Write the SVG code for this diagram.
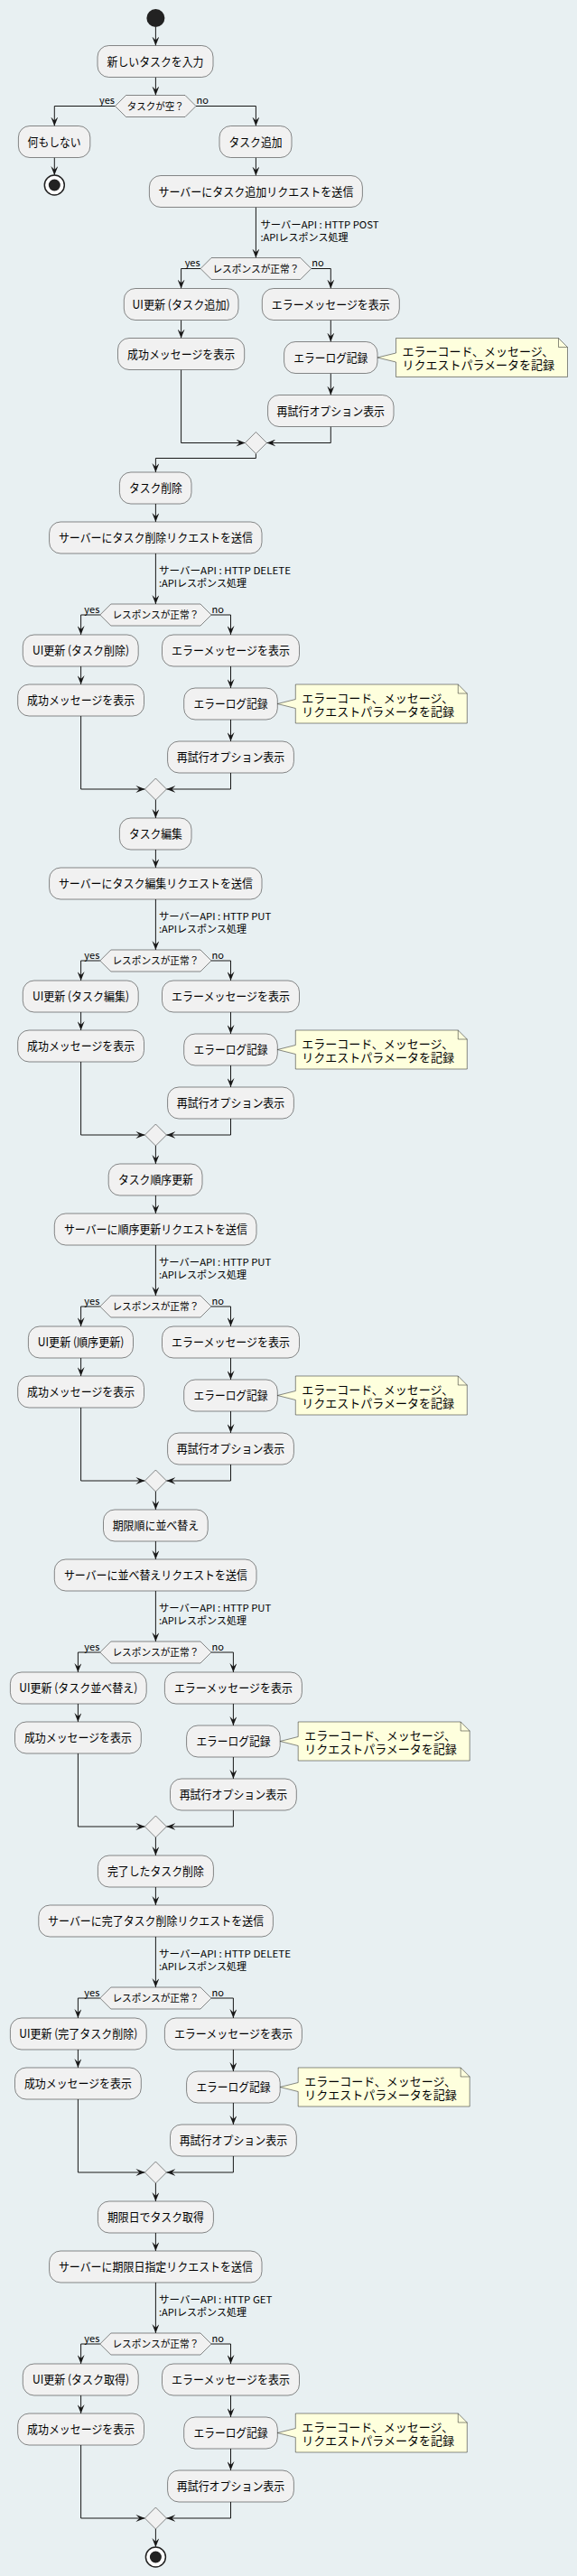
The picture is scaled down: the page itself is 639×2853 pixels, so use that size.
<svg xmlns="http://www.w3.org/2000/svg" width="639" height="2853" viewBox="0 0 639 2853">
<defs>
<style>
.box{fill:#F1F1F1;stroke:#181818;stroke-width:0.5}
.dia{fill:#F1F1F1;stroke:#181818;stroke-width:0.5}
.note{fill:#FEFFDD;stroke:#181818;stroke-width:0.5}
.fold{fill:none;stroke:#181818;stroke-width:0.5}
.c{fill:none;stroke:#181818;stroke-width:1;marker-end:url(#ah)}
.c0{fill:none;stroke:#181818;stroke-width:1}
text{font-family:"Noto Sans CJK JP","Noto Sans",sans-serif;fill:#000}
.t{font-size:13px;text-anchor:middle}
.dt{font-size:11px;text-anchor:middle}
.nt{font-size:13px}
.lb{font-size:11px}
.yes{font-size:11px;text-anchor:end}
.no{font-size:11px}
</style>
<marker id="ah" viewBox="0 0 10 8" refX="10" refY="4" markerWidth="10" markerHeight="8" markerUnits="userSpaceOnUse" orient="auto"><path d="M0,0 L10,4 L0,8 L4,4 Z" fill="#181818"/></marker>
</defs>
<rect x="0" y="0" width="639" height="2853" fill="#E8F0F2"/>

<g id="connectors">
<!-- section 1 -->
<path class="c" d="M172.4,30 V50.5"/>
<path class="c" d="M172.4,85.5 V105.5"/>
<path class="c" d="M127.5,117.5 H60.3 V139.5"/>
<path class="c" d="M217,117.5 H283.4 V139.5"/>
<path class="c" d="M60.3,174.5 V194"/>
<path class="c" d="M283.4,174.5 V194.5"/>
<path class="c" d="M283.4,229.5 V285.5"/>
<path class="c" d="M222.1,297.5 H200.6 V319.5"/>
<path class="c" d="M344.7,297.5 H366.3 V319.5"/>
<path class="c" d="M200.6,354.5 V374.5"/>
<path class="c" d="M366.3,354.5 V378.5"/>
<path class="c" d="M366.3,413.5 V437.5"/>
<path class="c" d="M200.6,409.5 V490.5 H271.4"/>
<path class="c" d="M366.3,472.5 V490.5 H295.4"/>
<path class="c" d="M283.4,502.5 V507.5 H172.4 V523"/>
<text class="yes" x="127" y="115">yes</text>
<text class="no" x="217.5" y="115">no</text>
<text class="lb" x="288.5" y="252.5" textLength="131" lengthAdjust="spacingAndGlyphs">サーバーAPI : HTTP POST</text>
<text class="lb" x="288.5" y="266.5" textLength="97" lengthAdjust="spacingAndGlyphs">:APIレスポンス処理</text>
<text class="yes" x="221.6" y="295">yes</text>
<text class="no" x="345.2" y="295">no</text>
<!-- section 2 -->
<path class="c" d="M172.4,558 V578"/>
<path class="c" d="M172.4,613 V669"/>
<path class="c" d="M110.8,681 H89.6 V703"/>
<path class="c" d="M234,681 H255.5 V703"/>
<path class="c" d="M89.6,738 V758"/>
<path class="c" d="M255.5,738 V762"/>
<path class="c" d="M255.5,797 V821"/>
<path class="c" d="M89.6,793 V874 H160.4"/>
<path class="c" d="M255.5,856 V874 H184.4"/>
<path class="c" d="M172.4,886 V906"/>
<text class="lb" x="176" y="635.5" textLength="146" lengthAdjust="spacingAndGlyphs">サーバーAPI : HTTP DELETE</text>
<text class="lb" x="176" y="650" textLength="97" lengthAdjust="spacingAndGlyphs">:APIレスポンス処理</text>
<text class="yes" x="110.3" y="678.5">yes</text>
<text class="no" x="234.6" y="678.5">no</text>
<!-- section 3 -->
<path class="c" d="M172.4,941 V961"/>
<path class="c" d="M172.4,996 V1052"/>
<path class="c" d="M110.8,1064 H89.6 V1086"/>
<path class="c" d="M234,1064 H255.5 V1086"/>
<path class="c" d="M89.6,1121 V1141"/>
<path class="c" d="M255.5,1121 V1145"/>
<path class="c" d="M255.5,1180 V1204"/>
<path class="c" d="M89.6,1176 V1257 H160.4"/>
<path class="c" d="M255.5,1239 V1257 H184.4"/>
<path class="c" d="M172.4,1269 V1289"/>
<text class="lb" x="176" y="1018.5" textLength="124.3" lengthAdjust="spacingAndGlyphs">サーバーAPI : HTTP PUT</text>
<text class="lb" x="176" y="1033" textLength="97" lengthAdjust="spacingAndGlyphs">:APIレスポンス処理</text>
<text class="yes" x="110.3" y="1061.5">yes</text>
<text class="no" x="234.6" y="1061.5">no</text>
<!-- section 4 -->
<path class="c" d="M172.4,1324 V1344"/>
<path class="c" d="M172.4,1379 V1435"/>
<path class="c" d="M110.8,1447 H89.6 V1469"/>
<path class="c" d="M234,1447 H255.5 V1469"/>
<path class="c" d="M89.6,1504 V1524"/>
<path class="c" d="M255.5,1504 V1528"/>
<path class="c" d="M255.5,1563 V1587"/>
<path class="c" d="M89.6,1559 V1640 H160.4"/>
<path class="c" d="M255.5,1622 V1640 H184.4"/>
<path class="c" d="M172.4,1652 V1672"/>
<text class="lb" x="176" y="1401.5" textLength="124.3" lengthAdjust="spacingAndGlyphs">サーバーAPI : HTTP PUT</text>
<text class="lb" x="176" y="1416" textLength="97" lengthAdjust="spacingAndGlyphs">:APIレスポンス処理</text>
<text class="yes" x="110.3" y="1444.5">yes</text>
<text class="no" x="234.6" y="1444.5">no</text>
<!-- section 5 -->
<path class="c" d="M172.4,1707 V1727"/>
<path class="c" d="M172.4,1762 V1818"/>
<path class="c" d="M110.8,1830 H86.4 V1852"/>
<path class="c" d="M234,1830 H258.4 V1852"/>
<path class="c" d="M86.4,1887 V1907"/>
<path class="c" d="M258.4,1887 V1911"/>
<path class="c" d="M258.4,1946 V1970"/>
<path class="c" d="M86.4,1942 V2023 H160.4"/>
<path class="c" d="M258.4,2005 V2023 H184.4"/>
<path class="c" d="M172.4,2035 V2055"/>
<text class="lb" x="176" y="1784.5" textLength="124.3" lengthAdjust="spacingAndGlyphs">サーバーAPI : HTTP PUT</text>
<text class="lb" x="176" y="1799" textLength="97" lengthAdjust="spacingAndGlyphs">:APIレスポンス処理</text>
<text class="yes" x="110.3" y="1827.5">yes</text>
<text class="no" x="234.6" y="1827.5">no</text>
<!-- section 6 -->
<path class="c" d="M172.4,2090 V2110"/>
<path class="c" d="M172.4,2145 V2201"/>
<path class="c" d="M110.8,2213 H86.4 V2235"/>
<path class="c" d="M234,2213 H258.4 V2235"/>
<path class="c" d="M86.4,2270 V2290"/>
<path class="c" d="M258.4,2270 V2294"/>
<path class="c" d="M258.4,2329 V2353"/>
<path class="c" d="M86.4,2325 V2406 H160.4"/>
<path class="c" d="M258.4,2388 V2406 H184.4"/>
<path class="c" d="M172.4,2418 V2438"/>
<text class="lb" x="176" y="2167.5" textLength="146" lengthAdjust="spacingAndGlyphs">サーバーAPI : HTTP DELETE</text>
<text class="lb" x="176" y="2182" textLength="97" lengthAdjust="spacingAndGlyphs">:APIレスポンス処理</text>
<text class="yes" x="110.3" y="2210.5">yes</text>
<text class="no" x="234.6" y="2210.5">no</text>
<!-- section 7 -->
<path class="c" d="M172.4,2473 V2493"/>
<path class="c" d="M172.4,2528 V2584"/>
<path class="c" d="M110.8,2596 H89.6 V2618"/>
<path class="c" d="M234,2596 H255.5 V2618"/>
<path class="c" d="M89.6,2653 V2673"/>
<path class="c" d="M255.5,2653 V2677"/>
<path class="c" d="M255.5,2712 V2736"/>
<path class="c" d="M89.6,2708 V2789 H160.4"/>
<path class="c" d="M255.5,2771 V2789 H184.4"/>
<path class="c" d="M172.4,2801 V2821"/>
<text class="lb" x="176" y="2550.5" textLength="125.5" lengthAdjust="spacingAndGlyphs">サーバーAPI : HTTP GET</text>
<text class="lb" x="176" y="2565" textLength="97" lengthAdjust="spacingAndGlyphs">:APIレスポンス処理</text>
<text class="yes" x="110.3" y="2593.5">yes</text>
<text class="no" x="234.6" y="2593.5">no</text>
</g>

<!-- section 1 nodes -->
<g id="start"><circle cx="172.4" cy="20" r="10" fill="#222"/></g>
<g id="n_input"><rect class="box" x="108" y="50.5" width="128" height="35" rx="12.5"/><text class="t" x="172" y="72.5" textLength="107" lengthAdjust="spacingAndGlyphs">新しいタスクを入力</text></g>
<g id="d_empty"><polygon class="dia" points="127.5,117.5 139.5,105.5 205,105.5 217,117.5 205,129.5 139.5,129.5"/><text class="dt" x="172.2" y="121.5" textLength="63" lengthAdjust="spacingAndGlyphs">タスクが空？</text></g>
<g id="n_nothing"><rect class="box" x="20.4" y="139.5" width="79.4" height="35" rx="12.5"/><text class="t" x="60.1" y="161.5" textLength="59" lengthAdjust="spacingAndGlyphs">何もしない</text></g>
<g id="end1"><circle cx="60.3" cy="205" r="11" fill="#fff" stroke="#222" stroke-width="1.5"/><circle cx="60.3" cy="205" r="6.5" fill="#222"/></g>
<g id="n_add"><rect class="box" x="243" y="139.5" width="80" height="35" rx="12.5"/><text class="t" x="283" y="161.5" textLength="59" lengthAdjust="spacingAndGlyphs">タスク追加</text></g>
<g id="n_send1"><rect class="box" x="165.4" y="194.5" width="236" height="35" rx="12.5"/><text class="t" x="283.4" y="216.5" textLength="216" lengthAdjust="spacingAndGlyphs">サーバーにタスク追加リクエストを送信</text></g>
<g id="d_resp1"><polygon class="dia" points="222.1,297.5 234.1,285.5 332.7,285.5 344.7,297.5 332.7,309.5 234.1,309.5"/><text class="dt" x="283.4" y="301.5" textLength="96" lengthAdjust="spacingAndGlyphs">レスポンスが正常？</text></g>
<g id="n_ui1"><rect class="box" x="137.3" y="319.5" width="126.7" height="35" rx="12.5"/><text class="t" x="200.6" y="341.5" textLength="108" lengthAdjust="spacingAndGlyphs">UI更新 (タスク追加)</text></g>
<g id="n_err1"><rect class="box" x="290.3" y="319.5" width="152" height="35" rx="12.5"/><text class="t" x="366.3" y="341.5" textLength="131" lengthAdjust="spacingAndGlyphs">エラーメッセージを表示</text></g>
<g id="n_ok1"><rect class="box" x="130.5" y="374.5" width="140.2" height="35" rx="12.5"/><text class="t" x="200.6" y="396.5" textLength="119" lengthAdjust="spacingAndGlyphs">成功メッセージを表示</text></g>
<g id="n_log1"><rect class="box" x="314.6" y="378.5" width="103.4" height="35" rx="12.5"/><text class="t" x="366.3" y="400.5" textLength="82" lengthAdjust="spacingAndGlyphs">エラーログ記録</text></g>
<g id="note1"><path class="note" d="M438.5,374.5 L618.5,374.5 L628.5,384.5 L628.5,417.5 L438.5,417.5 L438.5,401 L418,396 L438.5,391 Z"/><path class="fold" d="M618.5,374.5 L618.5,384.5 L628.5,384.5"/><text class="nt" x="445.5" y="394">エラーコード、メッセージ、</text><text class="nt" x="445.5" y="409">リクエストパラメータを記録</text></g>
<g id="n_retry1"><rect class="box" x="296.6" y="437.5" width="139.4" height="35" rx="12.5"/><text class="t" x="366.3" y="459.5" textLength="119.5" lengthAdjust="spacingAndGlyphs">再試行オプション表示</text></g>
<g id="m1"><polygon class="dia" points="283.4,478.5 295.4,490.5 283.4,502.5 271.4,490.5"/></g>

<!-- section 2 nodes (T=523) -->
<g id="n_del"><rect class="box" x="132.4" y="523" width="79.6" height="35" rx="12.5"/><text class="t" x="172.4" y="545" textLength="59" lengthAdjust="spacingAndGlyphs">タスク削除</text></g>
<g id="n_send2"><rect class="box" x="54.6" y="578" width="235.4" height="35" rx="12.5"/><text class="t" x="172.4" y="600" textLength="215" lengthAdjust="spacingAndGlyphs">サーバーにタスク削除リクエストを送信</text></g>
<g id="d_resp2"><polygon class="dia" points="110.8,681 122.8,669 222,669 234,681 222,693 122.8,693"/><text class="dt" x="172.4" y="685" textLength="96" lengthAdjust="spacingAndGlyphs">レスポンスが正常？</text></g>
<g id="n_ui2"><rect class="box" x="25.3" y="703" width="127.9" height="35" rx="12.5"/><text class="t" x="89.6" y="725" textLength="107" lengthAdjust="spacingAndGlyphs">UI更新 (タスク削除)</text></g>
<g id="n_err2"><rect class="box" x="179.5" y="703" width="152" height="35" rx="12.5"/><text class="t" x="255.5" y="725" textLength="131" lengthAdjust="spacingAndGlyphs">エラーメッセージを表示</text></g>
<g id="n_ok2"><rect class="box" x="19.7" y="758" width="139.8" height="35" rx="12.5"/><text class="t" x="89.6" y="780" textLength="119" lengthAdjust="spacingAndGlyphs">成功メッセージを表示</text></g>
<g id="n_log2"><rect class="box" x="203.7" y="762" width="103.6" height="35" rx="12.5"/><text class="t" x="255.5" y="784" textLength="82" lengthAdjust="spacingAndGlyphs">エラーログ記録</text></g>
<g id="note2"><path class="note" d="M327.3,758 L507.3,758 L517.3,768 L517.3,801 L327.3,801 L327.3,784.5 L307.3,779.5 L327.3,774.5 Z"/><path class="fold" d="M507.3,758 L507.3,768 L517.3,768"/><text class="nt" x="334.3" y="777.5">エラーコード、メッセージ、</text><text class="nt" x="334.3" y="792.5">リクエストパラメータを記録</text></g>
<g id="n_retry2"><rect class="box" x="185.6" y="821" width="139.8" height="35" rx="12.5"/><text class="t" x="255.5" y="843" textLength="119.5" lengthAdjust="spacingAndGlyphs">再試行オプション表示</text></g>
<g id="m2"><polygon class="dia" points="172.4,862 184.4,874 172.4,886 160.4,874"/></g>

<!-- section 3 nodes (T=906) -->
<g id="n_edit"><rect class="box" x="132.4" y="906" width="79.6" height="35" rx="12.5"/><text class="t" x="172.4" y="928" textLength="59" lengthAdjust="spacingAndGlyphs">タスク編集</text></g>
<g id="n_send3"><rect class="box" x="54.6" y="961" width="235.4" height="35" rx="12.5"/><text class="t" x="172.4" y="983" textLength="215" lengthAdjust="spacingAndGlyphs">サーバーにタスク編集リクエストを送信</text></g>
<g id="d_resp3"><polygon class="dia" points="110.8,1064 122.8,1052 222,1052 234,1064 222,1076 122.8,1076"/><text class="dt" x="172.4" y="1068" textLength="96" lengthAdjust="spacingAndGlyphs">レスポンスが正常？</text></g>
<g id="n_ui3"><rect class="box" x="25.3" y="1086" width="127.9" height="35" rx="12.5"/><text class="t" x="89.6" y="1108" textLength="107" lengthAdjust="spacingAndGlyphs">UI更新 (タスク編集)</text></g>
<g id="n_err3"><rect class="box" x="179.5" y="1086" width="152" height="35" rx="12.5"/><text class="t" x="255.5" y="1108" textLength="131" lengthAdjust="spacingAndGlyphs">エラーメッセージを表示</text></g>
<g id="n_ok3"><rect class="box" x="19.7" y="1141" width="139.8" height="35" rx="12.5"/><text class="t" x="89.6" y="1163" textLength="119" lengthAdjust="spacingAndGlyphs">成功メッセージを表示</text></g>
<g id="n_log3"><rect class="box" x="203.7" y="1145" width="103.6" height="35" rx="12.5"/><text class="t" x="255.5" y="1167" textLength="82" lengthAdjust="spacingAndGlyphs">エラーログ記録</text></g>
<g id="note3"><path class="note" d="M327.3,1141 L507.3,1141 L517.3,1151 L517.3,1184 L327.3,1184 L327.3,1167.5 L307.3,1162.5 L327.3,1157.5 Z"/><path class="fold" d="M507.3,1141 L507.3,1151 L517.3,1151"/><text class="nt" x="334.3" y="1160.5">エラーコード、メッセージ、</text><text class="nt" x="334.3" y="1175.5">リクエストパラメータを記録</text></g>
<g id="n_retry3"><rect class="box" x="185.6" y="1204" width="139.8" height="35" rx="12.5"/><text class="t" x="255.5" y="1226" textLength="119.5" lengthAdjust="spacingAndGlyphs">再試行オプション表示</text></g>
<g id="m3"><polygon class="dia" points="172.4,1245 184.4,1257 172.4,1269 160.4,1257"/></g>

<!-- section 4 nodes (T=1289) -->
<g id="n_order"><rect class="box" x="120.2" y="1289" width="103.8" height="35" rx="12.5"/><text class="t" x="172.4" y="1311" textLength="83" lengthAdjust="spacingAndGlyphs">タスク順序更新</text></g>
<g id="n_send4"><rect class="box" x="60.3" y="1344" width="223.7" height="35" rx="12.5"/><text class="t" x="172.4" y="1366" textLength="203" lengthAdjust="spacingAndGlyphs">サーバーに順序更新リクエストを送信</text></g>
<g id="d_resp4"><polygon class="dia" points="110.8,1447 122.8,1435 222,1435 234,1447 222,1459 122.8,1459"/><text class="dt" x="172.4" y="1451" textLength="96" lengthAdjust="spacingAndGlyphs">レスポンスが正常？</text></g>
<g id="n_ui4"><rect class="box" x="31.4" y="1469" width="116.1" height="35" rx="12.5"/><text class="t" x="89.6" y="1491" textLength="95.5" lengthAdjust="spacingAndGlyphs">UI更新 (順序更新)</text></g>
<g id="n_err4"><rect class="box" x="179.5" y="1469" width="152" height="35" rx="12.5"/><text class="t" x="255.5" y="1491" textLength="131" lengthAdjust="spacingAndGlyphs">エラーメッセージを表示</text></g>
<g id="n_ok4"><rect class="box" x="19.7" y="1524" width="139.8" height="35" rx="12.5"/><text class="t" x="89.6" y="1546" textLength="119" lengthAdjust="spacingAndGlyphs">成功メッセージを表示</text></g>
<g id="n_log4"><rect class="box" x="203.7" y="1528" width="103.6" height="35" rx="12.5"/><text class="t" x="255.5" y="1550" textLength="82" lengthAdjust="spacingAndGlyphs">エラーログ記録</text></g>
<g id="note4"><path class="note" d="M327.3,1524 L507.3,1524 L517.3,1534 L517.3,1567 L327.3,1567 L327.3,1550.5 L307.3,1545.5 L327.3,1540.5 Z"/><path class="fold" d="M507.3,1524 L507.3,1534 L517.3,1534"/><text class="nt" x="334.3" y="1543.5">エラーコード、メッセージ、</text><text class="nt" x="334.3" y="1558.5">リクエストパラメータを記録</text></g>
<g id="n_retry4"><rect class="box" x="185.6" y="1587" width="139.8" height="35" rx="12.5"/><text class="t" x="255.5" y="1609" textLength="119.5" lengthAdjust="spacingAndGlyphs">再試行オプション表示</text></g>
<g id="m4"><polygon class="dia" points="172.4,1628 184.4,1640 172.4,1652 160.4,1640"/></g>

<!-- section 5 nodes (T=1672) -->
<g id="n_sort"><rect class="box" x="114.5" y="1672" width="115.7" height="35" rx="12.5"/><text class="t" x="172.4" y="1694" textLength="95.5" lengthAdjust="spacingAndGlyphs">期限順に並べ替え</text></g>
<g id="n_send5"><rect class="box" x="60.3" y="1727" width="223.7" height="35" rx="12.5"/><text class="t" x="172.4" y="1749" textLength="203" lengthAdjust="spacingAndGlyphs">サーバーに並べ替えリクエストを送信</text></g>
<g id="d_resp5"><polygon class="dia" points="110.8,1830 122.8,1818 222,1818 234,1830 222,1842 122.8,1842"/><text class="dt" x="172.4" y="1834" textLength="96" lengthAdjust="spacingAndGlyphs">レスポンスが正常？</text></g>
<g id="n_ui5"><rect class="box" x="11.4" y="1852" width="150.8" height="35" rx="12.5"/><text class="t" x="86.8" y="1874" textLength="131" lengthAdjust="spacingAndGlyphs">UI更新 (タスク並べ替え)</text></g>
<g id="n_err5"><rect class="box" x="182.4" y="1852" width="152" height="35" rx="12.5"/><text class="t" x="258.4" y="1874" textLength="131" lengthAdjust="spacingAndGlyphs">エラーメッセージを表示</text></g>
<g id="n_ok5"><rect class="box" x="16.5" y="1907" width="139.8" height="35" rx="12.5"/><text class="t" x="86.4" y="1929" textLength="119" lengthAdjust="spacingAndGlyphs">成功メッセージを表示</text></g>
<g id="n_log5"><rect class="box" x="206.6" y="1911" width="103.6" height="35" rx="12.5"/><text class="t" x="258.4" y="1933" textLength="82" lengthAdjust="spacingAndGlyphs">エラーログ記録</text></g>
<g id="note5"><path class="note" d="M330.2,1907 L510.2,1907 L520.2,1917 L520.2,1950 L330.2,1950 L330.2,1933.5 L310.2,1928.5 L330.2,1923.5 Z"/><path class="fold" d="M510.2,1907 L510.2,1917 L520.2,1917"/><text class="nt" x="337.2" y="1926.5">エラーコード、メッセージ、</text><text class="nt" x="337.2" y="1941.5">リクエストパラメータを記録</text></g>
<g id="n_retry5"><rect class="box" x="188.5" y="1970" width="139.8" height="35" rx="12.5"/><text class="t" x="258.4" y="1992" textLength="119.5" lengthAdjust="spacingAndGlyphs">再試行オプション表示</text></g>
<g id="m5"><polygon class="dia" points="172.4,2011 184.4,2023 172.4,2035 160.4,2023"/></g>

<!-- section 6 nodes (T=2055) -->
<g id="n_done"><rect class="box" x="108.4" y="2055" width="128" height="35" rx="12.5"/><text class="t" x="172.4" y="2077" textLength="107" lengthAdjust="spacingAndGlyphs">完了したタスク削除</text></g>
<g id="n_send6"><rect class="box" x="42.8" y="2110" width="259.6" height="35" rx="12.5"/><text class="t" x="172.6" y="2132" textLength="239" lengthAdjust="spacingAndGlyphs">サーバーに完了タスク削除リクエストを送信</text></g>
<g id="d_resp6"><polygon class="dia" points="110.8,2213 122.8,2201 222,2201 234,2213 222,2225 122.8,2225"/><text class="dt" x="172.4" y="2217" textLength="96" lengthAdjust="spacingAndGlyphs">レスポンスが正常？</text></g>
<g id="n_ui6"><rect class="box" x="11.4" y="2235" width="150.8" height="35" rx="12.5"/><text class="t" x="86.8" y="2257" textLength="131" lengthAdjust="spacingAndGlyphs">UI更新 (完了タスク削除)</text></g>
<g id="n_err6"><rect class="box" x="182.4" y="2235" width="152" height="35" rx="12.5"/><text class="t" x="258.4" y="2257" textLength="131" lengthAdjust="spacingAndGlyphs">エラーメッセージを表示</text></g>
<g id="n_ok6"><rect class="box" x="16.5" y="2290" width="139.8" height="35" rx="12.5"/><text class="t" x="86.4" y="2312" textLength="119" lengthAdjust="spacingAndGlyphs">成功メッセージを表示</text></g>
<g id="n_log6"><rect class="box" x="206.6" y="2294" width="103.6" height="35" rx="12.5"/><text class="t" x="258.4" y="2316" textLength="82" lengthAdjust="spacingAndGlyphs">エラーログ記録</text></g>
<g id="note6"><path class="note" d="M330.2,2290 L510.2,2290 L520.2,2300 L520.2,2333 L330.2,2333 L330.2,2316.5 L310.2,2311.5 L330.2,2306.5 Z"/><path class="fold" d="M510.2,2290 L510.2,2300 L520.2,2300"/><text class="nt" x="337.2" y="2309.5">エラーコード、メッセージ、</text><text class="nt" x="337.2" y="2324.5">リクエストパラメータを記録</text></g>
<g id="n_retry6"><rect class="box" x="188.5" y="2353" width="139.8" height="35" rx="12.5"/><text class="t" x="258.4" y="2375" textLength="119.5" lengthAdjust="spacingAndGlyphs">再試行オプション表示</text></g>
<g id="m6"><polygon class="dia" points="172.4,2394 184.4,2406 172.4,2418 160.4,2406"/></g>

<!-- section 7 nodes (T=2438) -->
<g id="n_due"><rect class="box" x="108.4" y="2438" width="128" height="35" rx="12.5"/><text class="t" x="172.4" y="2460" textLength="107" lengthAdjust="spacingAndGlyphs">期限日でタスク取得</text></g>
<g id="n_send7"><rect class="box" x="54.6" y="2493" width="235.4" height="35" rx="12.5"/><text class="t" x="172.4" y="2515" textLength="215" lengthAdjust="spacingAndGlyphs">サーバーに期限日指定リクエストを送信</text></g>
<g id="d_resp7"><polygon class="dia" points="110.8,2596 122.8,2584 222,2584 234,2596 222,2608 122.8,2608"/><text class="dt" x="172.4" y="2600" textLength="96" lengthAdjust="spacingAndGlyphs">レスポンスが正常？</text></g>
<g id="n_ui7"><rect class="box" x="25.3" y="2618" width="127.9" height="35" rx="12.5"/><text class="t" x="89.6" y="2640" textLength="107" lengthAdjust="spacingAndGlyphs">UI更新 (タスク取得)</text></g>
<g id="n_err7"><rect class="box" x="179.5" y="2618" width="152" height="35" rx="12.5"/><text class="t" x="255.5" y="2640" textLength="131" lengthAdjust="spacingAndGlyphs">エラーメッセージを表示</text></g>
<g id="n_ok7"><rect class="box" x="19.7" y="2673" width="139.8" height="35" rx="12.5"/><text class="t" x="89.6" y="2695" textLength="119" lengthAdjust="spacingAndGlyphs">成功メッセージを表示</text></g>
<g id="n_log7"><rect class="box" x="203.7" y="2677" width="103.6" height="35" rx="12.5"/><text class="t" x="255.5" y="2699" textLength="82" lengthAdjust="spacingAndGlyphs">エラーログ記録</text></g>
<g id="note7"><path class="note" d="M327.3,2673 L507.3,2673 L517.3,2683 L517.3,2716 L327.3,2716 L327.3,2699.5 L307.3,2694.5 L327.3,2689.5 Z"/><path class="fold" d="M507.3,2673 L507.3,2683 L517.3,2683"/><text class="nt" x="334.3" y="2692.5">エラーコード、メッセージ、</text><text class="nt" x="334.3" y="2707.5">リクエストパラメータを記録</text></g>
<g id="n_retry7"><rect class="box" x="185.6" y="2736" width="139.8" height="35" rx="12.5"/><text class="t" x="255.5" y="2758" textLength="119.5" lengthAdjust="spacingAndGlyphs">再試行オプション表示</text></g>
<g id="m7"><polygon class="dia" points="172.4,2777 184.4,2789 172.4,2801 160.4,2789"/></g>
<g id="end2"><circle cx="172.4" cy="2832" r="11" fill="#fff" stroke="#222" stroke-width="1.5"/><circle cx="172.4" cy="2832" r="6.5" fill="#222"/></g>
</svg>
